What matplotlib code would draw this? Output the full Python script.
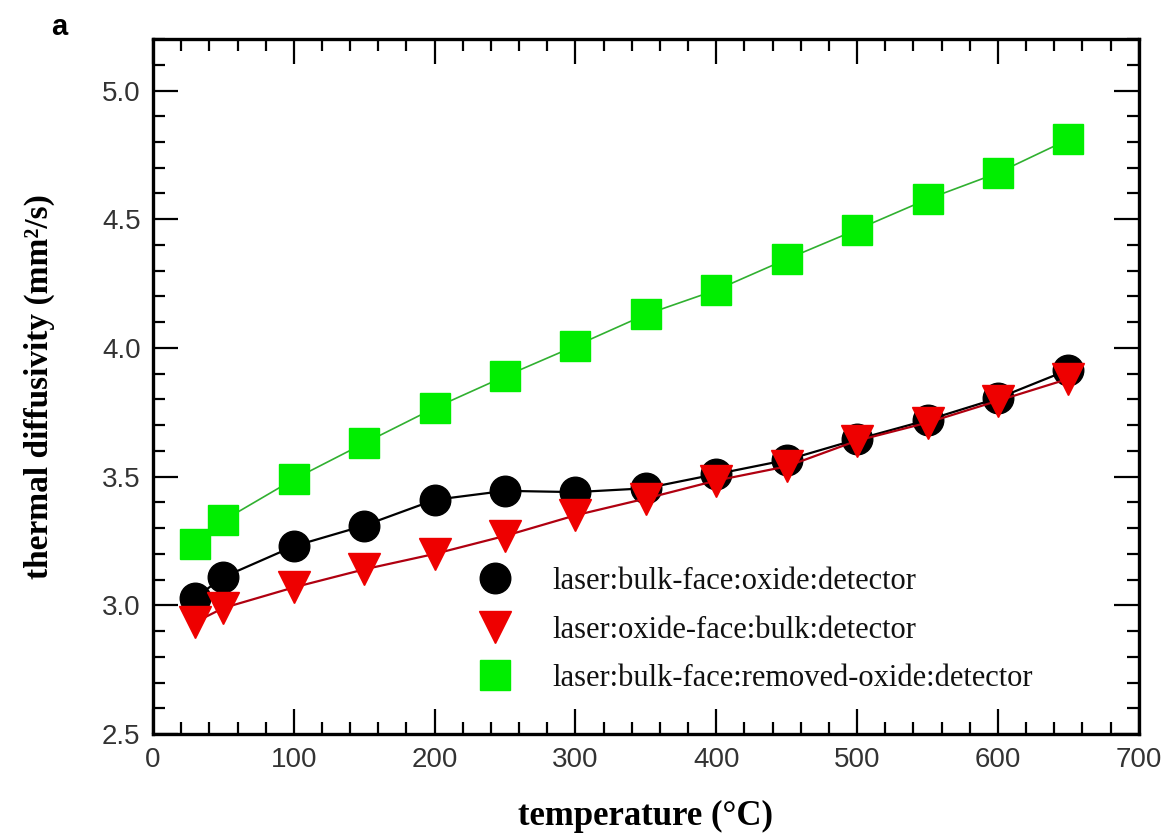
import matplotlib
matplotlib.use("Agg")
import matplotlib.pyplot as plt
from matplotlib.lines import Line2D
from matplotlib.ticker import MultipleLocator, FormatStrFormatter

temperature = [30, 50, 100, 150, 200, 250, 300, 350, 400, 450, 500, 550, 600, 650]
bulk_face_oxide = [3.03, 3.11, 3.23, 3.31, 3.41, 3.445, 3.44, 3.455, 3.51, 3.565, 3.645, 3.72, 3.805, 3.915]
oxide_face_bulk = [2.935, 2.99, 3.07, 3.14, 3.20, 3.27, 3.35, 3.415, 3.485, 3.54, 3.64, 3.71, 3.795, 3.88]
removed_oxide = [3.24, 3.33, 3.49, 3.63, 3.767, 3.89, 4.008, 4.13, 4.225, 4.345, 4.46, 4.578, 4.68, 4.81]

series_labels = [
    "laser:bulk-face:oxide:detector",
    "laser:oxide-face:bulk:detector",
    "laser:bulk-face:removed-oxide:detector",
]
x_label = "temperature (\u00b0C)"
y_label = "thermal diffusivity (mm\u00b2/s)"
panel_label = "a"

fig = plt.figure(figsize=(11.68, 8.39), dpi=100)
ax = fig.add_axes([0.131, 0.125, 0.844, 0.8285])

green_marker = "#00ee00"
red_marker = "#ee0000"

ax.plot(temperature, bulk_face_oxide, color="black", lw=1.6, marker="o", ms=22,
        mfc="black", mec="black", zorder=3)
ax.plot(temperature, oxide_face_bulk, color="#b00010", lw=1.6, marker="v", ms=23,
        mfc=red_marker, mec=red_marker, zorder=4)
ax.plot(temperature, removed_oxide, color="#30b030", lw=1.2, marker="s", ms=21,
        mfc=green_marker, mec=green_marker, zorder=3)

ax.set_xlim(0, 700)
ax.set_ylim(2.5, 5.2)
ax.xaxis.set_major_locator(MultipleLocator(100))
ax.xaxis.set_minor_locator(MultipleLocator(20))
ax.yaxis.set_major_locator(MultipleLocator(0.5))
ax.yaxis.set_minor_locator(MultipleLocator(0.1))
ax.yaxis.set_major_formatter(FormatStrFormatter("%.1f"))

for sp in ax.spines.values():
    sp.set_linewidth(2.4)
ax.tick_params(which="both", direction="in", top=True, right=True, width=1.6,
               labelsize=20, labelcolor="#333333", pad=9)
ax.tick_params(which="major", length=18)
ax.tick_params(which="minor", length=8.5)
for lab in ax.get_xticklabels() + ax.get_yticklabels():
    lab.set_fontfamily("Liberation Sans")

ax.set_xlabel(x_label, fontsize=25, fontweight="bold", family="Liberation Serif", labelpad=20)
ax.set_ylabel(y_label, fontsize=24, fontweight="bold", family="Liberation Serif", labelpad=34)

handles = [
    Line2D([], [], ls="none", marker="o", ms=22, mfc="black", mec="black"),
    Line2D([], [], ls="none", marker="v", ms=23, mfc=red_marker, mec=red_marker),
    Line2D([], [], ls="none", marker="s", ms=21, mfc=green_marker, mec=green_marker),
]
leg = ax.legend(handles, series_labels, loc="center left", bbox_to_anchor=(0.3256, 0.1496),
                frameon=False, prop={"family": "Liberation Serif", "size": 22},
                handlelength=1.4, handletextpad=1.16, labelspacing=0.64,
                borderpad=0, borderaxespad=0)
for t in leg.get_texts():
    t.set_color("#111111")

fig.text(59 / 1168, 1 - 27 / 839, panel_label, fontsize=21, fontweight="bold",
         family="Liberation Sans", ha="center", va="center")

fig.savefig("out.png", dpi=100)
